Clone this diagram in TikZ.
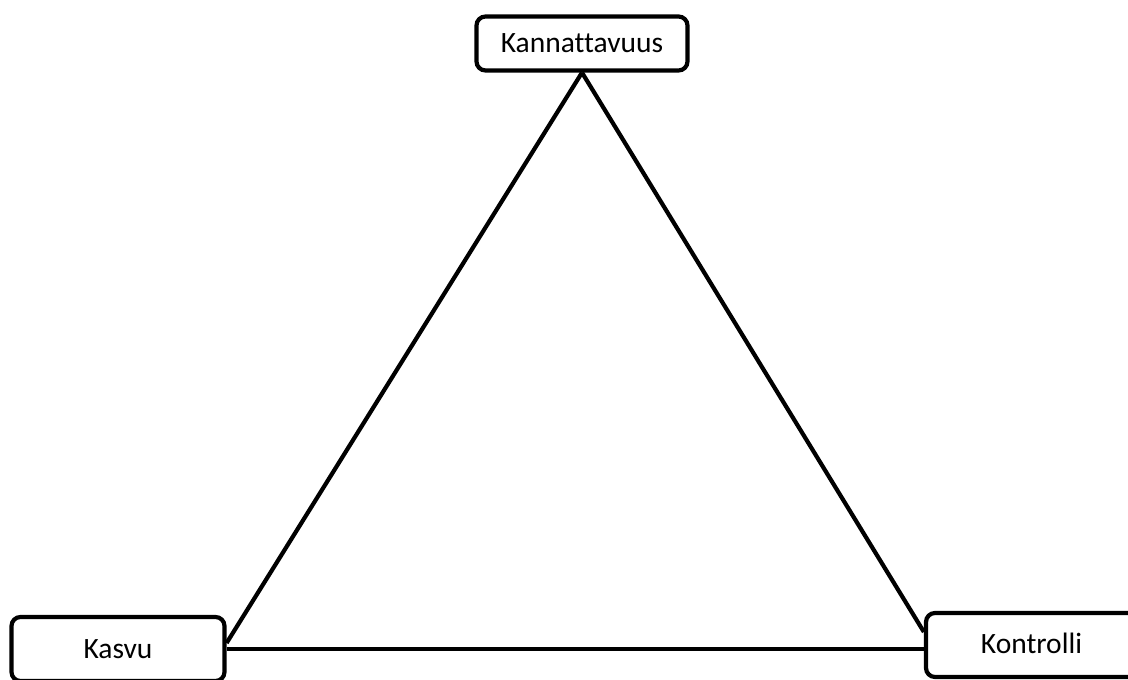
\documentclass[tikz,border=0pt]{standalone}
\usepackage{fontspec}
\setmainfont[Ligatures=NoCommon]{Carlito}
\usepackage{tikz}
\usetikzlibrary{calc}

\tikzset{
  corner box/.style={draw,line width=4.2pt,rounded corners=9pt,fill=white,
    inner sep=0pt,font=\fontsize{29.5}{35}\selectfont},
  side/.style={line width=4.2pt}
}

\begin{document}
\begin{tikzpicture}[x=1pt,y=1pt]
\useasboundingbox[fill=white] (0,0) rectangle (1128,680);
% the three corners
\node[corner box,minimum width=211pt,minimum height=54pt] (kann) at (582,636.5) {Kannattavuus};
\node[corner box,minimum width=213pt,minimum height=64pt] (kasvu) at (118,31) {Kasvu};
\node[corner box,minimum width=211pt,minimum height=64pt] (kontr) at (1031.5,35) {\raisebox{4pt}{Kontrolli}};
% sides of the triangle
\draw[side] (kann.south) -- ([yshift=6pt]kasvu.east);
\draw[side] (kann.south) -- ([yshift=13pt]kontr.west);
\draw[side] (kasvu.east) -- (kasvu.east -| kontr.west);
\end{tikzpicture}
\end{document}
